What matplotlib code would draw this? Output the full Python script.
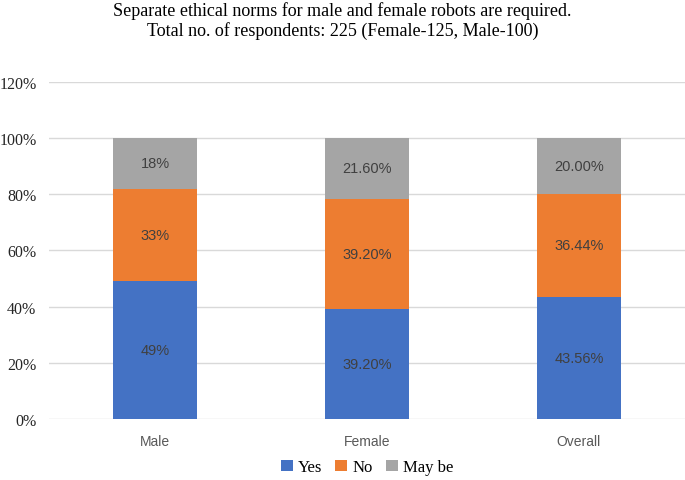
import matplotlib.pyplot as plt

# Data
categories = ['Male', 'Female', 'Overall']
yes = [49, 39.2, 43.56]
no = [33, 39.2, 36.44]
maybe = [18, 21.6, 20.00]
yes_labels = ['49%', '39.20%', '43.56%']
no_labels = ['33%', '39.20%', '36.44%']
maybe_labels = ['18%', '21.60%', '20.00%']

colors = ['#4472C4', '#ED7D31', '#A5A5A5']
serif = 'Liberation Serif'
sans = 'Liberation Sans'

fig = plt.figure(figsize=(6.85, 4.81), dpi=100)
ax = fig.add_axes([0.0715, 0.127, 0.9285, 0.701])

x = list(range(len(categories)))
w = 0.397
b1 = ax.bar(x, yes, w, color=colors[0], label='Yes', zorder=2)
bottom2 = yes
b2 = ax.bar(x, no, w, bottom=bottom2, color=colors[1], label='No', zorder=2)
bottom3 = [a + b for a, b in zip(yes, no)]
b3 = ax.bar(x, maybe, w, bottom=bottom3, color=colors[2], label='May be', zorder=2)

for bars, labels in [(b1, yes_labels), (b2, no_labels), (b3, maybe_labels)]:
    ax.bar_label(bars, labels=labels, label_type='center', color='#404040',
                 fontsize=10.5, family=sans)

ax.set_xlim(-0.5, 2.5)
ax.set_ylim(0, 120)
ax.set_yticks(range(0, 121, 20))
ax.set_yticklabels([f'{v}%' for v in range(0, 121, 20)], family=serif,
                   fontsize=11.5, color='#262626')
ax.set_xticks(x)
ax.set_xticklabels(categories, family=sans, fontsize=10, color='#595959')
ax.tick_params(length=0)
ax.tick_params(axis='y', pad=9)
ax.tick_params(axis='x', pad=11)
ax.grid(axis='y', color='#D9D9D9', linewidth=1, zorder=0)
for s in ax.spines.values():
    s.set_visible(False)

fig.suptitle('Separate ethical norms for male and female robots are required.\n'
             'Total no. of respondents: 225 (Female-125, Male-100)',
             family=serif, fontsize=13, y=0.995, linespacing=1.15)

ax.legend(loc='upper center', bbox_to_anchor=(0.5, -0.075), ncol=3, frameon=False,
          prop={'family': serif, 'size': 12}, handlelength=0.7, handleheight=0.7,
          handletextpad=0.3, columnspacing=0.8)

fig.savefig('out.png', dpi=100)
